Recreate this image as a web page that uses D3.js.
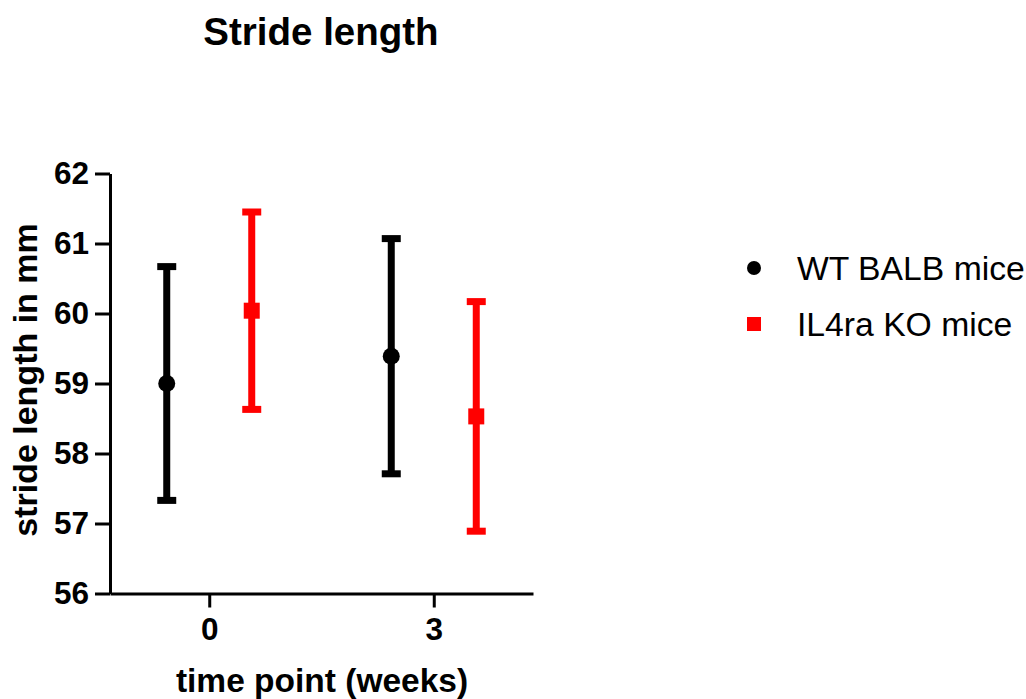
<!DOCTYPE html>
<html>
<head>
<meta charset="utf-8">
<script src="https://cdn.jsdelivr.net/npm/d3@7"></script>
<style>
  body { margin: 0; background: #fff; }
  text { font-family: "Liberation Sans", Arial, sans-serif; }
</style>
</head>
<body>
<div id="my_dataviz"></div>
<script>
// data
var timePoints = ["0", "3"];
var seriesNames = ["WT BALB mice", "IL4ra KO mice"];
var seriesColors = ["#000000", "#ff0000"];
var wtMean = [59.0, 59.39];
var wtErr = [1.67, 1.68];
var koMean = [60.04, 58.53];
var koErr = [1.41, 1.64];
var yTicks = [56, 57, 58, 59, 60, 61, 62];

var width = 1026, height = 699;

var svg = d3.select("#my_dataviz")
  .append("svg")
    .attr("width", width)
    .attr("height", height);

// scales
var x = d3.scalePoint()
  .domain(timePoints)
  .range([110, 533])
  .padding(0.442);

var offset = d3.scalePoint()
  .domain(seriesNames)
  .range([-42.5, 42.5]);

var y = d3.scaleLinear()
  .domain([56, 62])
  .range([593.5, 173.5]);

// y axis
var yAxis = svg.append("g")
  .attr("transform", "translate(110,0)")
  .call(d3.axisLeft(y).tickValues(yTicks).tickSize(15).tickSizeOuter(0).tickPadding(6).tickFormat(d3.format("d")));
yAxis.select(".domain").attr("stroke-width", 3);
yAxis.selectAll(".tick line").attr("stroke-width", 3);
yAxis.selectAll(".tick text")
  .style("font-size", "31.5px")
  .style("font-weight", "bold")
  .attr("fill", "#000");

// x axis
var xAxis = svg.append("g")
  .attr("transform", "translate(0,593.5)")
  .call(d3.axisBottom(x).tickSize(14).tickSizeOuter(0).tickPadding(10));
xAxis.select(".domain").attr("stroke-width", 3);
xAxis.selectAll(".tick line").attr("stroke-width", 3);
xAxis.selectAll(".tick text")
  .style("font-size", "31.5px")
  .style("font-weight", "bold")
  .attr("fill", "#000");

// build rows for plotting
var rows = [];
timePoints.forEach(function(t, i) {
  rows.push({t: t, s: seriesNames[0], mean: wtMean[i], err: wtErr[i], color: seriesColors[0], shape: "circle"});
  rows.push({t: t, s: seriesNames[1], mean: koMean[i], err: koErr[i], color: seriesColors[1], shape: "square"});
});

var cx = function(d) { return x(d.t) + offset(d.s); };

var bars = svg.append("g").selectAll("g")
  .data(rows)
  .enter()
  .append("g");

// vertical error line
bars.append("line")
  .attr("x1", cx).attr("x2", cx)
  .attr("y1", function(d) { return y(d.mean + d.err); })
  .attr("y2", function(d) { return y(d.mean - d.err); })
  .attr("stroke", function(d) { return d.color; })
  .attr("stroke-width", 7);

// caps
[1, -1].forEach(function(sign) {
  bars.append("line")
    .attr("x1", function(d) { return cx(d) - 9.5; })
    .attr("x2", function(d) { return cx(d) + 9.5; })
    .attr("y1", function(d) { return y(d.mean + sign * d.err); })
    .attr("y2", function(d) { return y(d.mean + sign * d.err); })
    .attr("stroke", function(d) { return d.color; })
    .attr("stroke-width", 7);
});

// markers
bars.filter(function(d) { return d.shape == "circle"; })
  .append("circle")
    .attr("cx", cx)
    .attr("cy", function(d) { return y(d.mean); })
    .attr("r", 8.5)
    .attr("fill", function(d) { return d.color; });

bars.filter(function(d) { return d.shape == "square"; })
  .append("rect")
    .attr("x", function(d) { return cx(d) - 8; })
    .attr("y", function(d) { return y(d.mean) - 8; })
    .attr("width", 16)
    .attr("height", 16)
    .attr("fill", function(d) { return d.color; });

// title
svg.append("text")
  .attr("x", 321)
  .attr("y", 45)
  .attr("text-anchor", "middle")
  .style("font-size", "38.5px")
  .style("font-weight", "bold")
  .text("Stride length");

// axis titles
svg.append("text")
  .attr("x", 322)
  .attr("y", 692)
  .attr("text-anchor", "middle")
  .style("font-size", "33.5px")
  .style("font-weight", "bold")
  .text("time point (weeks)");

svg.append("text")
  .attr("transform", "translate(37,380) rotate(-90)")
  .attr("text-anchor", "middle")
  .style("font-size", "34px")
  .style("font-weight", "bold")
  .text("stride length in mm");

// legend
var legend = svg.append("g").selectAll("g")
  .data(seriesNames)
  .enter()
  .append("g")
    .attr("transform", function(d, i) { return "translate(754," + (268 + i * 56) + ")"; });

legend.filter(function(d, i) { return i == 0; })
  .append("circle")
    .attr("r", 7)
    .attr("fill", seriesColors[0]);

legend.filter(function(d, i) { return i == 1; })
  .append("rect")
    .attr("x", -7).attr("y", -7)
    .attr("width", 14).attr("height", 14)
    .attr("fill", seriesColors[1]);

legend.append("text")
  .attr("x", 43)
  .attr("y", 12)
  .style("font-size", "33.7px")
  .text(function(d) { return d; });
</script>
</body>
</html>
